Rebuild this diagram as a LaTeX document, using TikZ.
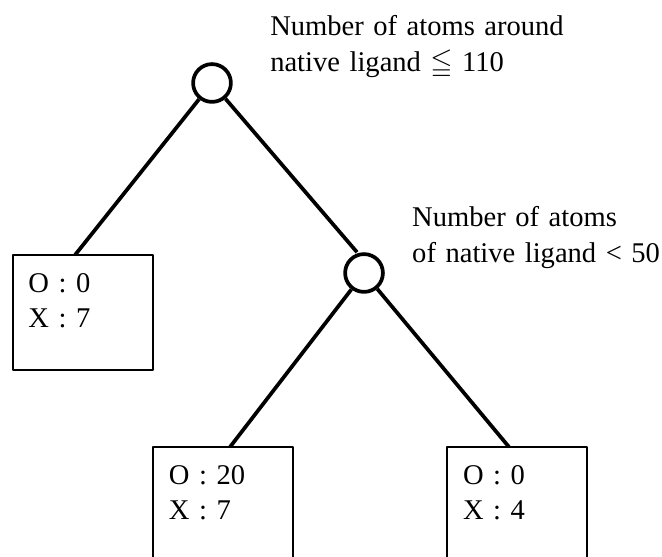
\documentclass[tikz,border=0pt]{standalone}
\usepackage{amssymb}
\usepackage{fontspec}
\setmainfont{Liberation Serif}

\begin{document}
\begin{tikzpicture}[line join=round,font=\fontsize{21.5}{27}\selectfont,
  split/.style={circle,draw,line width=2.8pt,minimum size=1cm,inner sep=0pt},
  leaf/.style={rectangle,draw,line width=1.5pt,outer sep=0pt,anchor=north west,
    inner xsep=0.423cm,inner ysep=0pt,text width=2.858cm,
    text height=0.979cm,text depth=2.064cm,align=left},
  cond/.style={anchor=base west,inner sep=0pt,text width=8cm,align=left},
  edge/.style={line width=2.8pt}]
  \useasboundingbox (0,0) rectangle (17.515,14.737);
  \coordinate (P0) at (5.609,12.541);
  \coordinate (P1) at (9.631,7.514);
  \coordinate (B0) at (0.331,7.990);
  \coordinate (B1) at (4.048,2.910);
  \coordinate (B2) at (11.827,2.910);
  \node[split] (root) at (P0) {};
  \node[split] (inner) at (P1) {};
  \node[leaf] (leafA) at (B0) {O : 0\\X : 7};
  \node[leaf] (leafB) at (B1) {O : 20\\X : 7};
  \node[leaf] (leafC) at (B2) {O : 0\\X : 4};
  \node[cond] (condA) at (7.144,13.785) {Number of atoms around\\native ligand $\leqq$ 110};
  \node[cond] (condB) at (10.900,8.731) {Number of atoms\\of native ligand < 50};
  \draw[edge] (root) -- ([xshift=-0.198cm]leafA.north);
  \draw[edge] (root) -- ([xshift=-0.185cm]inner.north);
  \draw[edge] (inner) -- ([xshift=0.185cm]leafB.north);
  \draw[edge] (inner) -- ([xshift=-0.212cm]leafC.north);
\end{tikzpicture}
\end{document}
